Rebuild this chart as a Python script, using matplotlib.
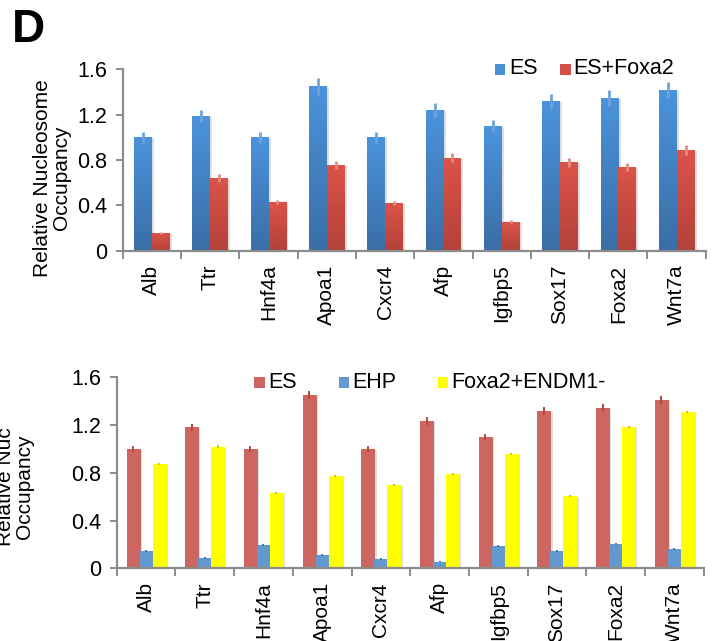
import numpy as np
import matplotlib
matplotlib.use("Agg")
import matplotlib.pyplot as plt
from matplotlib.colors import LinearSegmentedColormap
from matplotlib.patches import Rectangle
import matplotlib.transforms as mtransforms

plt.rcParams['font.family'] = ['Liberation Sans', 'DejaVu Sans']

genes = ['Alb', 'Ttr', 'Hnf4a', 'Apoa1', 'Cxcr4', 'Afp', 'Igfbp5', 'Sox17', 'Foxa2', 'Wnt7a']

# Panel 1: ES vs ES+Foxa2
top_names = ['ES', 'ES+Foxa2']
top_es = [1.00, 1.19, 1.00, 1.45, 1.00, 1.24, 1.10, 1.32, 1.35, 1.42]
top_es_err = [0.05, 0.055, 0.05, 0.075, 0.05, 0.06, 0.05, 0.065, 0.07, 0.07]
top_foxa2 = [0.155, 0.64, 0.43, 0.755, 0.42, 0.82, 0.255, 0.78, 0.74, 0.89]
top_foxa2_err = [0.01, 0.035, 0.02, 0.035, 0.02, 0.04, 0.015, 0.04, 0.035, 0.045]

# Panel 2: ES, EHP, Foxa2+ENDM1-
bot_names = ['ES', 'EHP', 'Foxa2+ENDM1-']
bot_es = [1.00, 1.18, 1.00, 1.45, 1.00, 1.235, 1.10, 1.315, 1.345, 1.41]
bot_es_err = [0.025, 0.028, 0.025, 0.035, 0.025, 0.035, 0.028, 0.035, 0.028, 0.032]
bot_ehp = [0.145, 0.086, 0.198, 0.109, 0.078, 0.055, 0.19, 0.145, 0.206, 0.162]
bot_ehp_err = [0.008, 0.006, 0.008, 0.008, 0.006, 0.004, 0.008, 0.006, 0.008, 0.008]
bot_endm = [0.874, 1.02, 0.633, 0.773, 0.698, 0.79, 0.957, 0.606, 1.183, 1.309]
bot_endm_err = [0.01, 0.01, 0.01, 0.01, 0.012, 0.01, 0.012, 0.01, 0.008, 0.01]

yticks = [0, 0.4, 0.8, 1.2, 1.6]
ytick_labels = ['0', '0.4', '0.8', '1.2', '1.6']

W, H = 712, 641
fig = plt.figure(figsize=(W / 100, H / 100), dpi=100)
fig.patch.set_facecolor('white')

AXIS_GRAY = '#8c8c8c'


def px_axes(left, top, right, bottom):
    return fig.add_axes([left / W, 1 - bottom / H, (right - left) / W, (bottom - top) / H])


def style_axes(ax, pad):
    n = len(genes)
    ax.set_xlim(0, n)
    ax.set_ylim(0, 1.6)
    for s in ['top', 'right']:
        ax.spines[s].set_visible(False)
    for s in ['left', 'bottom']:
        ax.spines[s].set_color(AXIS_GRAY)
        ax.spines[s].set_linewidth(1.6)
    ax.set_yticks(yticks)
    ax.set_yticklabels(ytick_labels, fontsize=15.5)
    ax.tick_params(axis='y', direction='out', length=5, width=1.4, color=AXIS_GRAY, pad=6)
    ax.set_xticks(np.arange(n) + 0.5)
    ax.set_xticklabels(genes, rotation=90, fontsize=15, va='top', ha='center')
    ax.tick_params(axis='x', which='major', length=0, pad=pad)
    ax.set_xticks(np.arange(n + 1), minor=True)
    ax.tick_params(axis='x', which='minor', direction='out', length=6, width=1.4, color=AXIS_GRAY)


def draw_bars(ax, offsets, width, series, errors, tops, bottoms, errcolors, errlw):
    x = np.arange(len(genes)) + 0.5
    shadow = mtransforms.offset_copy(ax.transData, fig=fig, x=2.2, y=-1.0, units='dots')
    for k, (vals, errs) in enumerate(zip(series, errors)):
        cmap = LinearSegmentedColormap.from_list('g%d' % k, [bottoms[k], tops[k]])
        grad = np.linspace(0, 1, 64).reshape(-1, 1)
        for i, v in enumerate(vals):
            x0 = x[i] + offsets[k] - width / 2
            ax.add_patch(Rectangle((x0, 0), width, v, transform=shadow,
                                   facecolor='#000000', alpha=0.13, lw=0, zorder=1))
            im = ax.imshow(grad, extent=[x0, x0 + width, 0, v], origin='lower',
                           cmap=cmap, aspect='auto', zorder=2, interpolation='bilinear')
            rect = Rectangle((x0, 0), width, v, transform=ax.transData, facecolor='none', lw=0)
            ax.add_patch(rect)
            im.set_clip_path(rect)
            ax.vlines(x[i] + offsets[k], v - errs[i], v + errs[i], colors=errcolors[k],
                      lw=errlw, zorder=3)
    ax.set_xlim(0, len(genes))
    ax.set_ylim(0, 1.6)


def draw_legend(items):
    # items: (square_left_px, text_left_px, center_y_px, color, label)
    for sx, tx, cy, col, lab in items:
        fig.patches.append(Rectangle((sx / W, 1 - (cy + 5.5) / H), 10.5 / W, 11 / H,
                                     transform=fig.transFigure, facecolor=col, lw=0))
        fig.text(tx / W, 1 - cy / H, lab, fontsize=15.5, ha='left', va='center')


# ---- Panel D, top ----
ax1 = px_axes(122.7, 69.3, 705.8, 250.7)
style_axes(ax1, pad=10)
draw_bars(ax1, offsets=[-0.152, 0.152], width=0.303,
          series=[top_es, top_foxa2], errors=[top_es_err, top_foxa2_err],
          tops=['#4b93dc', '#db5348'], bottoms=['#3a6ea6', '#b3423a'],
          errcolors=['#6ea3db', '#e58a84'], errlw=2.0)

draw_legend([(494.5, 509, 69, '#4a8fd6', top_names[0]),
             (560, 573, 69, '#d6504a', top_names[1])])

fig.text(52.5 / W, 1 - 178 / H, 'Relative Nucleosome\nOccupancy', rotation=90,
         fontsize=15, ha='center', va='center', multialignment='center', linespacing=1.0)
fig.text(12 / W, 1 - 30 / H, 'D', fontsize=33, fontweight='bold', ha='left', va='center')

# ---- bottom panel ----
ax2 = px_axes(116.7, 377.3, 703.7, 568.3)
style_axes(ax2, pad=10)
draw_bars(ax2, offsets=[-0.222, 0.0, 0.222], width=0.222,
          series=[bot_es, bot_ehp, bot_endm], errors=[bot_es_err, bot_ehp_err, bot_endm_err],
          tops=['#cd6660', '#6399cf', '#ffff00'], bottoms=['#cd6660', '#6399cf', '#ffff00'],
          errcolors=['#b8453f', '#3f79b5', '#c9c900'], errlw=1.4)

draw_legend([(254, 268, 382, '#cd6660', bot_names[0]),
             (338.5, 352, 382, '#6399cf', bot_names[1]),
             (437.5, 451, 382, '#ffff00', bot_names[2])])

fig.text(15 / W, 1 - 487 / H, 'Relative Nuc\nOccupancy', rotation=90,
         fontsize=15, ha='center', va='center', multialignment='center', linespacing=1.0)

fig.savefig('out.png', dpi=100, facecolor='white')
